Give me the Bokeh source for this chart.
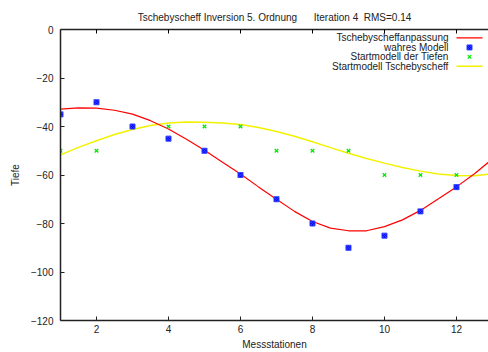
from bokeh.plotting import figure
from bokeh.models import FixedTicker, LinearAxis, Label, Range1d
from bokeh.embed import file_html
from bokeh.resources import INLINE

# ---- data ----
stations = [1, 2, 3, 4, 5, 6, 7, 8, 9, 10, 11, 12]
true_model = [-35, -30, -40, -45, -50, -60, -70, -80, -90, -85, -75, -65]
start_depths = [-50, -50, -40, -40, -40, -40, -50, -50, -50, -60, -60, -60]

curve_x = [1, 1.5, 2, 2.5, 3, 3.5, 4, 4.5, 5, 5.5, 6, 6.5, 7, 7.5, 8, 8.5,
           9, 9.5, 10, 10.5, 11, 11.5, 12, 12.5, 12.9]
fit_curve = [-32.8, -32.3, -32.4, -33.3, -34.9, -37.6, -41.0, -45.3, -49.8,
             -54.7, -59.6, -64.9, -70.0, -75.0, -79.2, -81.9, -83.0, -83.0,
             -81.3, -78.5, -74.6, -69.8, -64.9, -59.5, -54.6]
start_curve = [-51.7, -48.6, -45.9, -43.3, -41.2, -39.6, -38.6, -38.1, -38.2,
               -38.6, -39.2, -40.4, -42.1, -44.0, -46.3, -48.7, -51.0, -53.2,
               -55.1, -56.9, -58.4, -59.6, -60.2, -60.3, -59.6]

x_ticks = [2, 4, 6, 8, 10, 12]
y_ticks = [-120, -100, -80, -60, -40, -20, 0]

legend_labels = ["Tschebyscheffanpassung", "wahres Modell",
                 "Startmodell der Tiefen", "Startmodell Tschebyscheff"]

title_text = "Tschebyscheff Inversion 5. Ordnung" + "\u00a0" * 6 + "Iteration 4\u00a0\u00a0RMS=0.14"

FONT = "Liberation Sans"
W, H = 488, 352
LEFT, RIGHT, TOP, BOTTOM = 60, 0, 29, 31
X0, X1 = 1, 12.89
Y0, Y1 = -120, 0

p = figure(width=W, height=H, output_backend="svg", toolbar_location=None,
           x_range=Range1d(X0, X1), y_range=Range1d(Y0, Y1),
           min_border_left=LEFT, min_border_right=RIGHT,
           min_border_top=TOP, min_border_bottom=BOTTOM,
           title=title_text)
p.title.text_font = FONT
p.title.text_font_size = "10px"
p.title.text_font_style = "normal"
p.title.align = "center"
p.title.text_color = "#222222"
p.title.standoff = 14
p.outline_line_color = None
p.xgrid.visible = False
p.ygrid.visible = False
p.background_fill_color = "white"
p.border_fill_color = "white"

for ax in (p.xaxis[0], p.yaxis[0]):
    ax.axis_line_width = 1.5
    ax.axis_line_color = "#222222"
    ax.major_tick_in = 4
    ax.major_tick_out = 0
    ax.minor_tick_in = 0
    ax.minor_tick_out = 0
    ax.major_tick_line_color = "#222222"
    ax.major_label_text_font = FONT
    ax.major_label_text_font_size = "10px"
    ax.major_label_text_color = "#222222"
    ax.axis_label_text_font = FONT
    ax.axis_label_text_font_size = "10px"
    ax.axis_label_text_font_style = "normal"
    ax.axis_label_text_color = "#222222"

p.xaxis[0].ticker = FixedTicker(ticks=x_ticks)
p.yaxis[0].ticker = FixedTicker(ticks=y_ticks)
p.xaxis[0].axis_label = "Messstationen"
p.yaxis[0].axis_label = "Tiefe"
p.xaxis[0].major_label_standoff = 4
p.xaxis[0].axis_label_standoff = 3
p.yaxis[0].major_label_standoff = 7
p.yaxis[0].axis_label_standoff = 7

top_axis = LinearAxis(ticker=FixedTicker(ticks=x_ticks))
top_axis.axis_line_width = 1.5
top_axis.axis_line_color = "#222222"
top_axis.major_tick_in = 4
top_axis.major_tick_out = 0
top_axis.minor_tick_in = 0
top_axis.minor_tick_out = 0
top_axis.major_label_text_font_size = "1px"
top_axis.major_label_text_color = None
top_axis.major_label_standoff = 0
p.add_layout(top_axis, "above")

RED, BLUE, GREEN, YELLOW = "#ff0000", "#0000ff", "#00e800", "#f2f200"

p.line(curve_x, start_curve, line_color=YELLOW, line_width=1.5)
p.line(curve_x, fit_curve, line_color=RED, line_width=1.2)
p.scatter(stations, start_depths, marker="x", size=5,
          line_color=GREEN, line_width=1.2)
p.scatter(stations, true_model, marker="square_x", size=5,
          fill_color=BLUE, line_color="#3344ff", line_width=1)

# legend drawn in pixel positions converted to data units
fw = W - LEFT - RIGHT
fh = H - TOP - BOTTOM
def dx(px):
    return X0 + (px - LEFT) / fw * (X1 - X0)
def dy(py):
    return Y1 - (py - TOP) / fh * (Y1 - Y0)

rows = [37.5, 47, 56.5, 66]
for lab, ry in zip(legend_labels, rows):
    p.add_layout(Label(x=dx(448), y=dy(ry), text=lab, text_align="right",
                       text_baseline="middle", text_font=FONT,
                       text_font_size="10px", text_color="#222222"))
p.line([dx(456), dx(482)], [dy(rows[0])] * 2, line_color=RED, line_width=1.2)
p.scatter([dx(469)], [dy(rows[1])], marker="square_x", size=5,
          fill_color=BLUE, line_color="#3344ff", line_width=1)
p.scatter([dx(469)], [dy(rows[2])], marker="x", size=5,
          line_color=GREEN, line_width=1.2)
p.line([dx(456), dx(482)], [dy(rows[3])] * 2, line_color=YELLOW, line_width=1.5)

open("out.html", "w").write(file_html(p, INLINE))
